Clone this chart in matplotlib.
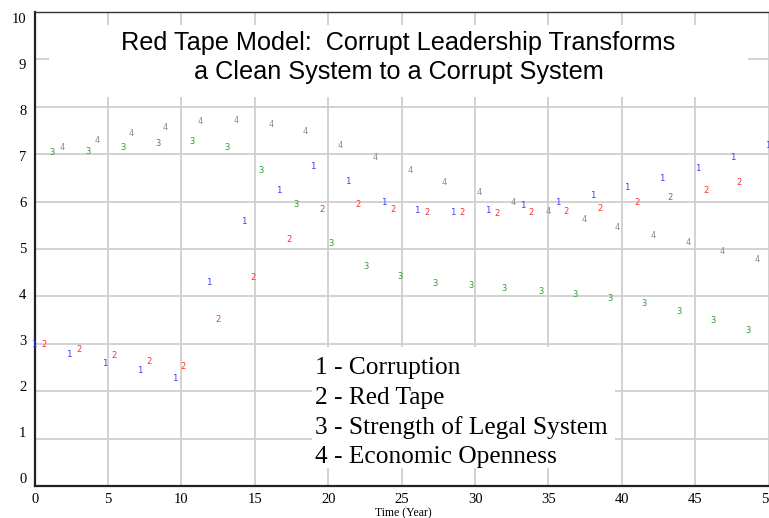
import matplotlib
matplotlib.use('Agg')
import matplotlib.pyplot as plt
from matplotlib.patches import Rectangle
from matplotlib.transforms import ScaledTranslation

# values (markers only, every ~2.4 years, each series offset)
t_corruption = [0, 2.4, 4.8, 7.2, 9.6, 11.9, 14.3, 16.7, 19.0, 21.4, 23.8, 26.1,
                28.5, 30.9, 33.3, 35.7, 38.1, 40.4, 42.8, 45.2, 47.6, 50]
corruption = [2.99, 2.78, 2.59, 2.43, 2.26, 4.29, 5.58, 6.24, 6.75, 6.43, 5.99, 5.82,
              5.78, 5.82, 5.91, 5.99, 6.12, 6.29, 6.48, 6.69, 6.94, 7.19]

t_red_tape = [0.6, 3.0, 5.4, 7.8, 10.1, 12.5, 14.9, 17.3, 19.6, 22.0, 24.4, 26.7,
              29.1, 31.5, 33.8, 36.2, 38.5, 41.0, 43.3, 45.7, 48.0]
red_tape = [2.99, 2.87, 2.76, 2.62, 2.53, 3.52, 4.39, 5.19, 5.84, 5.93, 5.84, 5.78,
            5.76, 5.74, 5.76, 5.80, 5.86, 5.97, 6.08, 6.24, 6.41]

t_legal = [1.2, 3.6, 6.0, 8.4, 10.7, 13.1, 15.4, 17.8, 20.2, 22.6, 24.9, 27.3,
           29.7, 32.0, 34.5, 36.8, 39.2, 41.5, 43.9, 46.2, 48.6]
legal = [7.04, 7.06, 7.14, 7.22, 7.27, 7.14, 6.65, 5.93, 5.11, 4.62, 4.41, 4.28,
         4.22, 4.16, 4.11, 4.05, 3.95, 3.84, 3.69, 3.50, 3.29]

t_openness = [1.9, 4.25, 6.6, 8.9, 11.3, 13.7, 16.1, 18.4, 20.8, 23.2, 25.6, 27.9,
              30.3, 32.6, 35.0, 37.4, 39.7, 42.1, 44.5, 46.8, 49.2]
openness = [7.14, 7.28, 7.43, 7.57, 7.68, 7.70, 7.62, 7.47, 7.19, 6.92, 6.65, 6.41,
            6.20, 5.99, 5.80, 5.63, 5.46, 5.29, 5.13, 4.94, 4.77]

legend_lines = ['1 - Corruption', '2 - Red Tape', '3 - Strength of Legal System',
                '4 - Economic Openness']
xticks = list(range(0, 51, 5))
yticks = list(range(0, 11))

series = [(t_corruption, corruption, '1', '#3a3aff'),
          (t_red_tape, red_tape, '2', '#ff2e2e'),
          (t_legal, legal, '3', '#2f9f2f'),
          (t_openness, openness, '4', '#8e8e8e')]

fig = plt.figure(figsize=(7.69, 5.18), dpi=100)
ax = fig.add_axes([0.0451, 0.0618, 0.9545, 0.9151])
ax.set_xlim(0, 50)
ax.set_ylim(0, 10)
ax.set_xticks(xticks)
ax.set_yticks(yticks)
ax.grid(True, color='#cfcfcf', lw=1.3)
ax.set_axisbelow(True)
ax.tick_params(length=0, labelsize=10.5)
ax.tick_params(axis='x', pad=5)
ax.tick_params(axis='y', pad=6)
for lab in ax.get_xticklabels() + ax.get_yticklabels():
    lab.set_family('Liberation Serif')

# y labels in the original drift a bit off the grid lines
for i, lab in enumerate(ax.get_yticklabels()):
    off = 6 - (10 - i) * 1.4
    lab.set_transform(lab.get_transform() + ScaledTranslation(0, -off / 100, fig.dpi_scale_trans))

for s in ['left', 'bottom']:
    ax.spines[s].set_linewidth(1.6)
    ax.spines[s].set_color('#222222')
ax.spines['top'].set_linewidth(1.0)
ax.spines['top'].set_color('#333333')
ax.spines['right'].set_visible(False)

ax.set_xlabel('Time (Year)', family='Liberation Serif', fontsize=8.5, va='top')
ax.xaxis.set_label_coords(0.5018, -0.044)

# white boxes that hide the grid behind title and legend
ax.add_patch(Rectangle((0.0195, 0.8207), 0.9523, 0.152, transform=ax.transAxes,
                       facecolor='white', edgecolor='none', zorder=1))
ax.add_patch(Rectangle((0.3778, 0.038), 0.4128, 0.2552, transform=ax.transAxes,
                       facecolor='white', edgecolor='none', zorder=1))

for t, v, mark, col in series:
    for x, y in zip(t, v):
        ax.text(x, y, mark, color=col, fontsize=6.3, family='DejaVu Sans Mono',
                ha='center', va='center', zorder=3, clip_on=False)

ax.text(0.4957, 0.92, 'Red Tape Model:  Corrupt Leadership Transforms', transform=ax.transAxes,
        ha='center', va='baseline', fontsize=18.2, family='Liberation Sans', zorder=3)
ax.text(0.4957, 0.8586, 'a Clean System to a Corrupt System', transform=ax.transAxes,
        ha='center', va='baseline', fontsize=18.2, family='Liberation Sans', zorder=3)

for k, line in enumerate(legend_lines):
    ax.text(0.3819, 0.2363 - k * 0.0628, line, transform=ax.transAxes, ha='left',
            va='baseline', fontsize=18.3, family='Liberation Serif', zorder=3)

fig.savefig('out.png', dpi=100)
